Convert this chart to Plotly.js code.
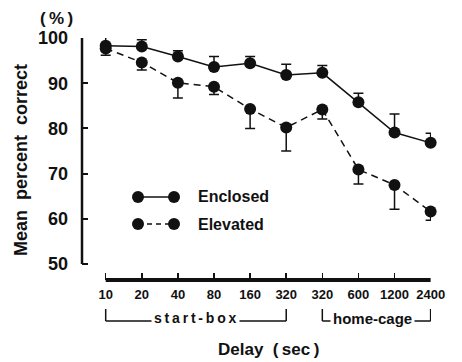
<!DOCTYPE html>
<html>
<head>
<meta charset="utf-8">
<script src="https://cdn.plot.ly/plotly-3.0.1.min.js"></script>
<style>html,body{margin:0;padding:0;background:#fff;}#chart{width:462px;height:362px;}</style>
</head>
<body>
<div id="chart"></div>
<script>
// Data
var delayLabels = ['10', '20', '40', '80', '160', '320', '320', '600', '1200', '2400'];
var delayIndex = [0, 1, 2, 3, 4, 5, 6, 7, 8, 9];
var enclosed = [98.3, 98.1, 95.9, 93.6, 94.4, 91.8, 92.3, 85.8, 79.1, 76.8];
var enclosedErr = [2.0, 1.5, 1.3, 2.3, 1.5, 2.4, 1.6, 2.0, 4.1, 2.1];
var elevated = [97.7, 94.6, 90.1, 89.2, 84.3, 80.2, 84.2, 70.9, 67.5, 61.6];
var elevatedErr = [1.5, 1.7, 3.4, 1.7, 4.3, 5.2, 2.1, 3.2, 5.4, 1.9];
var seriesNames = ['Enclosed', 'Elevated'];
var yTicks = [50, 60, 70, 80, 90, 100];

var ink = '#111';
var FONT = 'Liberation Sans, Arial, Helvetica, sans-serif';
var zeros = delayIndex.map(function () { return 0; });

var traces = [
  {
    x: delayIndex, y: enclosed, type: 'scatter', mode: 'lines+markers',
    name: seriesNames[0], cliponaxis: false, showlegend: false,
    line: { color: ink, width: 1.5 },
    marker: { color: ink, size: 12 },
    error_y: { type: 'data', symmetric: false, array: enclosedErr, arrayminus: zeros,
               color: ink, thickness: 1.5, width: 5 }
  },
  {
    x: delayIndex, y: elevated, type: 'scatter', mode: 'lines+markers',
    name: seriesNames[1], cliponaxis: false, showlegend: false,
    line: { color: ink, width: 1.5, dash: '7px,5px' },
    marker: { color: ink, size: 12 },
    error_y: { type: 'data', symmetric: false, array: zeros, arrayminus: elevatedErr,
               color: ink, thickness: 1.5, width: 5 }
  },
  // legend samples (on hidden overlay axes)
  {
    x: [0.1605, 0.2636], y: [0.343, 0.343], xaxis: 'x2', yaxis: 'y2',
    type: 'scatter', mode: 'lines+markers', showlegend: false, hoverinfo: 'skip',
    line: { color: ink, width: 1.5 }, marker: { color: ink, size: 12 }, cliponaxis: false
  },
  {
    x: [0.1605, 0.2636], y: [0.2314, 0.2314], xaxis: 'x2', yaxis: 'y2',
    type: 'scatter', mode: 'lines+markers', showlegend: false, hoverinfo: 'skip',
    line: { color: ink, width: 1.5, dash: '5px,4px' }, marker: { color: ink, size: 12 }, cliponaxis: false
  }
];

var yTop = 309, yLine = 321;
function py(p) { return (280 - p) / 242; }

var layout = {
  width: 462, height: 362,
  margin: { l: 82, r: 31, t: 38, b: 82 },
  paper_bgcolor: '#fff', plot_bgcolor: 'rgba(0,0,0,0)',
  showlegend: false,
  font: { family: FONT, color: ink, weight: 'bold' },
  xaxis: {
    range: [-0.656, 9.01], tickmode: 'array', tickvals: delayIndex, ticktext: delayLabels,
    ticks: 'inside', ticklen: 7, tickwidth: 1.5, tickcolor: ink,
    showline: false, showgrid: false, zeroline: false, fixedrange: true,
    tickfont: { family: FONT, size: 13, color: ink, weight: 'bold' },
    ticklabelstandoff: 5
  },
  yaxis: {
    range: [46.46, 100], tickmode: 'array', tickvals: yTicks,
    ticks: 'inside', ticklen: 6, tickwidth: 2, tickcolor: ink,
    showline: false, showgrid: false, zeroline: false, fixedrange: true,
    tickfont: { family: FONT, size: 18, color: ink, weight: 'bold' },
    ticklabelstandoff: 13
  },
  xaxis2: { overlaying: 'x', range: [0, 1], visible: false, fixedrange: true },
  yaxis2: { overlaying: 'y', range: [0, 1], visible: false, fixedrange: true },
  shapes: [
    // y axis line
    { type: 'line', xref: 'paper', yref: 'y', x0: 0, x1: 0, y0: 50, y1: 100,
      line: { color: ink, width: 2.5 } },
    // x axis thick line
    { type: 'line', xref: 'x', yref: 'paper', x0: 0, x1: 9, y0: 0, y1: 0,
      line: { color: ink, width: 4 } },
    // start-box bracket
    { type: 'line', xref: 'x', yref: 'paper', x0: 0, x1: 0, y0: py(yTop), y1: py(yLine),
      line: { color: ink, width: 1.5 } },
    { type: 'line', xref: 'x', yref: 'paper', x0: 0, x1: 5, y0: py(yLine), y1: py(yLine),
      line: { color: ink, width: 1.5 } },
    { type: 'line', xref: 'x', yref: 'paper', x0: 5, x1: 5, y0: py(yTop), y1: py(yLine),
      line: { color: ink, width: 1.5 } },
    // home-cage bracket
    { type: 'line', xref: 'x', yref: 'paper', x0: 6, x1: 6, y0: py(yTop), y1: py(yLine),
      line: { color: ink, width: 1.5 } },
    { type: 'line', xref: 'x', yref: 'paper', x0: 6, x1: 9, y0: py(yLine), y1: py(yLine),
      line: { color: ink, width: 1.5 } },
    { type: 'line', xref: 'x', yref: 'paper', x0: 9, x1: 9, y0: py(yTop), y1: py(yLine),
      line: { color: ink, width: 1.5 } }
  ],
  annotations: [
    { text: 's\u2009t\u2009a\u2009r\u2009t\u2009-\u2009b\u2009o\u2009x', xref: 'x', yref: 'paper', x: 2.5, y: py(318),
      showarrow: false, bgcolor: '#fff', borderpad: 2, xanchor: 'center', yanchor: 'middle',
      font: { family: FONT, size: 14, color: ink, weight: 'bold' } },
    { text: 'home-cage', xref: 'x', yref: 'paper', x: 7.4, y: py(318),
      showarrow: false, bgcolor: '#fff', borderpad: 2, xanchor: 'center', yanchor: 'middle',
      font: { family: FONT, size: 15, color: ink, weight: 'bold' } },
    { text: 'Delay\u00a0\u00a0(\u2009sec\u2009)', xref: 'paper', yref: 'paper', x: 0.533, y: py(349),
      showarrow: false, xanchor: 'center', yanchor: 'middle',
      font: { family: FONT, size: 17, color: ink, weight: 'bold' } },
    { text: 'Mean\u00a0\u00a0percent\u00a0\u00a0correct', xref: 'paper', yref: 'paper', x: (21 - 82) / 349, y: py(160),
      textangle: -90, showarrow: false, xanchor: 'center', yanchor: 'middle',
      font: { family: FONT, size: 18, color: ink, weight: 'bold' } },
    { text: '(\u2009%\u2009)', xref: 'paper', yref: 'paper', x: (56 - 82) / 349, y: py(19),
      showarrow: false, xanchor: 'center', yanchor: 'middle',
      font: { family: FONT, size: 17, color: ink, weight: 'bold' } },
    { text: seriesNames[0], xref: 'paper', yref: 'paper', x: (196 - 82) / 349, y: 0.343,
      showarrow: false, xanchor: 'left', yanchor: 'middle',
      font: { family: FONT, size: 16, color: ink, weight: 'bold' } },
    { text: seriesNames[1], xref: 'paper', yref: 'paper', x: (196 - 82) / 349, y: 0.2314,
      showarrow: false, xanchor: 'left', yanchor: 'middle',
      font: { family: FONT, size: 16, color: ink, weight: 'bold' } }
  ]
};

Plotly.newPlot('chart', traces, layout, { displayModeBar: false, staticPlot: true });
</script>
</body>
</html>
